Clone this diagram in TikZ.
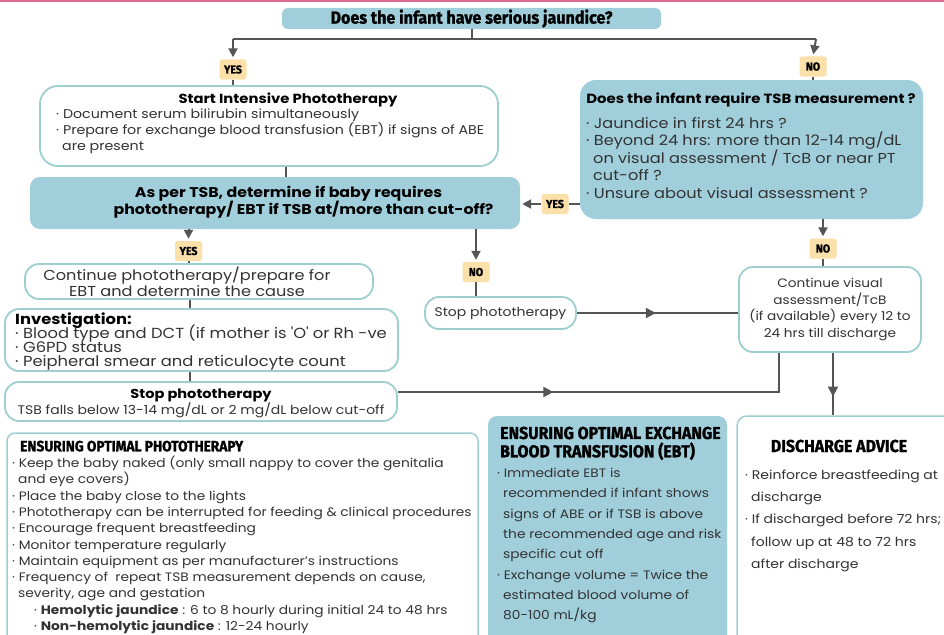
\documentclass[tikz,border=0pt]{standalone}
\usepackage{fontspec}
\setmainfont{Poppins}[FakeStretch=1.12]
\newfontfamily\condf[FakeStretch=0.92,FakeBold=1.2]{Fira Sans}
\usetikzlibrary{arrows.meta,decorations.markings}
\definecolor{bluefill}{HTML}{A0CEDB}
\definecolor{tealline}{HTML}{9ECFD0}
\definecolor{arrowc}{HTML}{555555}
\definecolor{lblfill}{HTML}{FBE0A9}
\definecolor{pinkline}{HTML}{DB6A91}
\definecolor{txt}{HTML}{333333}
\newcommand{\fsz}[2]{\fontsize{#1}{#2}\selectfont\lineskiplimit=-20pt\relax}
\newcommand{\condhead}[1]{{\condf\bfseries\color{black}#1}}
\tikzset{
  bluebox/.style={fill=bluefill, draw=none, rounded corners=10pt, inner sep=0pt},
  whitebox/.style={fill=white, draw=tealline, line width=1.8pt, rounded corners=14pt, inner sep=0pt},
  lbl/.style={fill=lblfill, rounded corners=2.5pt, font=\condf\bfseries\fsz{11.5}{11.5}, inner sep=0pt, minimum width=27pt, minimum height=20pt, text=black},
  conn/.style={draw=arrowc, line width=2pt},
  arr/.style={conn, -{Triangle[width=9pt,length=9pt]}, shorten >=2pt},
  midarr/.style={conn, postaction={decorate}, decoration={markings, mark=at position #1 with {\arrow{Triangle[width=10pt,length=10pt]}}}},
  body/.style={inner sep=0pt, text=txt, align=left},
  head/.style={inner sep=0pt, text=black, font=\bfseries\fsz{13}{17}, align=center},
}
\begin{document}
\begin{tikzpicture}[x=1pt,y=-1pt]
\useasboundingbox (0,0) rectangle (944,634);
\clip (0,0) rectangle (944,634);
\fill[white] (0,0) rectangle (944,634);
\fill[pinkline] (0,0) rectangle (944,2.5);

% top question
\node[bluebox, rounded corners=6pt, minimum width=379pt, minimum height=21pt, font=\condf\bfseries\fsz{17.5}{17.5}] (q1) at (471.5,18.5) {Does the infant have serious jaundice?};
\coordinate (jl) at (233,39);
\coordinate (jr) at (816,39);
\coordinate (jm) at (471.5,39);
\coordinate (vx) at (190,0);

\node[lbl] (yes1) at (233,69.5) {YES};
\node[lbl] (no1) at (813,66.5) {NO};

% start intensive phototherapy
\node[whitebox, rounded corners=18pt, minimum width=458pt, minimum height=80pt] (sb) at (269,126) {};
\node[head, font=\bfseries\fsz{13.2}{17}] (sbT) at (288,100) {Start Intensive Phototherapy};
\node[body, anchor=north west, font=\fsz{12.7}{16}] (sbB) at (56,108.5) {· Document serum bilirubin simultaneously\\· Prepare for exchange blood transfusion (EBT) if signs of ABE\\\hspace*{6pt}are present};

% TSB measurement
\node[bluebox, rounded corners=16pt, minimum width=343pt, minimum height=139pt] (rq) at (751.5,149.5) {};
\node[head, font=\bfseries\fsz{13.3}{17}] (rqT) at (751,100) {Does the infant require TSB measurement ?};
\node[body, anchor=north west, font=\fsz{14.4}{17.5}] (rqB) at (586,117) {· Jaundice in first 24 hrs ?\\· Beyond 24 hrs: more than 12-14 mg/dL\\\hspace*{7pt}on visual assessment / TcB or near PT\\\hspace*{7pt}cut-off ?\\· Unsure about visual assessment ?};

% as per TSB
\node[bluebox, rounded corners=10pt, minimum width=490pt, minimum height=52pt] (tsb) at (275,203) {};
\node[head, font=\bfseries\fsz{14.1}{17}] (tsbT) at (296,202.5) {As per TSB, determine if baby requires\hspace*{15pt}\\\hspace*{15pt}phototherapy/ EBT if TSB at/more than cut-off?};

\node[lbl] (yes2) at (555,204) {YES};
\node[lbl] (yes3) at (188.5,251) {YES};
\node[lbl] (no2) at (476,272) {NO};
\node[lbl] (no3) at (823,248.5) {NO};

% continue phototherapy
\node[whitebox, minimum width=348pt, minimum height=35pt] (cp) at (199,281.5) {};
\node[body, align=center, font=\fsz{14.4}{16}] (cpT) at (187,282) {Continue phototherapy/prepare for\\EBT and determine the cause};
% investigation
\node[whitebox, minimum width=393pt, minimum height=62pt] (inv) at (201.5,340) {};
\node[body, anchor=north west, font=\fsz{14.6}{14}] (invT) at (15,313) {\textbf{\color{black}Investigation:}\\· Blood type and DCT (if mother is \textquotesingle O\textquotesingle\ or Rh -ve\\· G6PD status\\· Peipheral smear and reticulocyte count};
% stop phototherapy (left)
\node[whitebox, minimum width=392pt, minimum height=39pt] (stop) at (201,401.5) {};
\node[body, align=center, anchor=north, font=\fsz{12.5}{16}] (stopT) at (201,388.5) {\textbf{\color{black}\fsz{13}{16}Stop phototherapy}\\TSB falls below 13-14 mg/dL or 2 mg/dL below cut-off};

% stop phototherapy (middle)
\node[whitebox, minimum width=151pt, minimum height=32pt, font=\fsz{12.5}{16}, text=txt] (sp) at (500.5,313) {Stop phototherapy};
% continue visual
\node[whitebox, minimum width=182pt, minimum height=85pt, font=\fsz{12.2}{16.8}, align=center, text=txt] (cv) at (830,309.5) {Continue visual\\assessment/TcB\\(if available) every 12 to\\24 hrs till discharge};

% bottom boxes
\node[whitebox, rounded corners=8pt, line width=1.5pt, minimum width=471pt, minimum height=217pt] (opt) at (242.5,541.5) {};
\node[body, anchor=north west, font=\fsz{12.3}{16.3}] (optT) at (12,440.5) {\hspace*{8pt}\condhead{\fsz{14.9}{16.3}ENSURING OPTIMAL PHOTOTHERAPY}\\· Keep the baby naked (only small nappy to cover the genitalia\\\hspace*{6pt}and eye covers)\\· Place the baby close to the lights\\· Phototherapy can be interrupted for feeding \& clinical procedures\\· Encourage frequent breastfeeding\\· Monitor temperature regularly\\· Maintain equipment as per manufacturer’s instructions\\· Frequency of\ \ repeat TSB measurement depends on cause,\\\hspace*{6pt}severity, age and gestation\\\hspace*{22pt}· \textbf{Hemolytic jaundice} : 6 to 8 hourly during initial 24 to 48 hrs\\\hspace*{22pt}· \textbf{Non-hemolytic jaundice} : 12-24 hourly};

\node[bluebox, rounded corners=9pt, minimum width=239pt, minimum height=234pt] (ebt) at (607.5,533) {};
\node[body, anchor=north west, font=\fsz{12.3}{20.3}] (ebtT) at (497,426.5) {\hspace*{3pt}\condhead{\fsz{17.3}{18}ENSURING OPTIMAL EXCHANGE}\\[-2pt]\hspace*{3pt}\condhead{\fsz{17.3}{18}BLOOD TRANSFUSION (EBT)}\\· Immediate EBT is\\\hspace*{6pt}recommended if infant shows\\\hspace*{6pt}signs of ABE or if TSB is above\\\hspace*{6pt}the recommended age and risk\\\hspace*{6pt}specific cut off\\· Exchange volume = Twice the\\\hspace*{6pt}estimated blood volume of\\\hspace*{6pt}80-100 mL/kg};

\node[whitebox, rounded corners=10pt, line width=1.5pt, minimum width=225pt, minimum height=234pt] (dis) at (849.5,533) {};
\node[inner sep=0pt, font=\condf\bfseries\fsz{17.3}{17}] (disT) at (839,446) {DISCHARGE ADVICE};
\node[body, anchor=north west, font=\fsz{12.5}{22.3}] (disB) at (745,469.5) {· Reinforce breastfeeding at\\\hspace*{6pt}discharge\\· If discharged before 72 hrs;\\\hspace*{6pt}follow up at 48 to 72 hrs\\\hspace*{6pt}after discharge};

% connectors
\draw[conn] (q1.south) -- (jm);
\draw[conn] (jl) -- (jr);
\draw[arr] (jl) -- (yes1.north);
\draw[arr] (jr) -- (no1.north);
\draw[conn] (yes1.south) -- (yes1.south |- sb.north);
\draw[conn] (no1.south) -- (no1.south |- rq.north);
\draw[conn] ([xshift=17pt]sb.south) -- ([xshift=17pt]sb.south |- tsb.north);
\draw[conn] (rq.west |- yes2) -- (yes2.east);
\draw[arr] (yes2.west) -- (tsb.east |- yes2);
\draw[arr] (yes3.north |- tsb.south) -- (yes3.north);
\draw[conn] (yes3.south) -- (yes3.south |- cp.north);
\draw[arr] (no2.north |- tsb.south) -- (no2.north);
\draw[conn] (no2.south) -- (no2.south |- sp.north);
\draw[arr] (no3.north |- rq.south) -- (no3.north);
\draw[conn] (no3.south) -- (no3.south |- cv.north);
\draw[conn] (vx |- cp.south) -- (vx |- inv.north);
\draw[conn] (vx |- inv.south) -- (vx |- stop.north);
\draw[midarr=0.37] ([yshift=9.5pt]stop.east) -| ([xshift=-51pt]cv.south);
\draw[midarr=0.49] (sp.east) -- (cv.west |- sp.east);
\draw[midarr=0.7] ([xshift=3pt]cv.south) -- ([xshift=3pt]cv.south |- dis.north);
\end{tikzpicture}
\end{document}
